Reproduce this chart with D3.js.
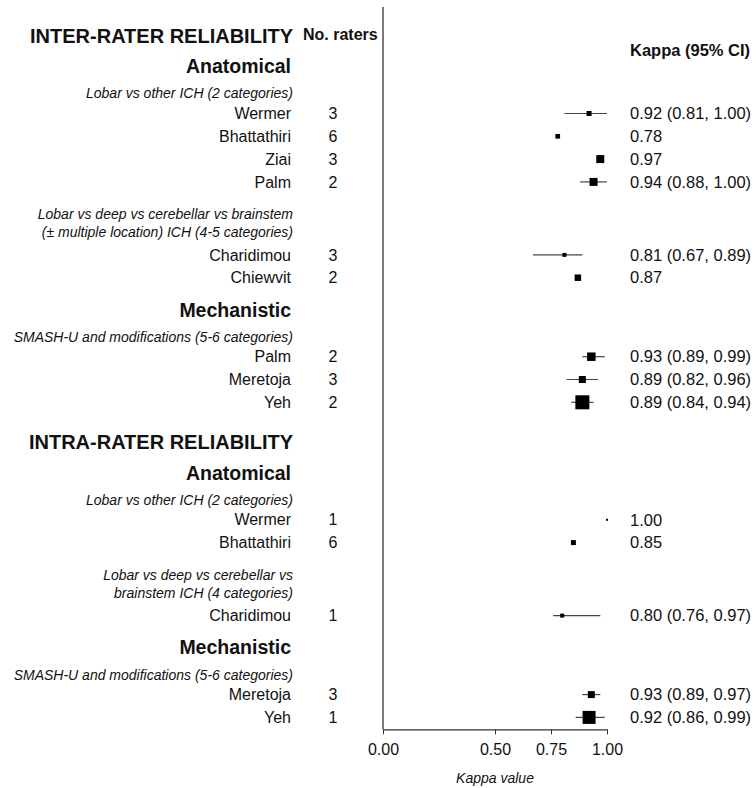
<!DOCTYPE html>
<html>
<head>
<meta charset="utf-8">
<script src="https://cdn.jsdelivr.net/npm/d3@7"></script>
<style>
  body { margin: 0; background: #fff; }
  text { font-family: "Liberation Sans", Arial, Helvetica, sans-serif; fill: #111; }
</style>
</head>
<body>
<svg id="chart" width="756" height="788"></svg>
<script>
// study rows, in drawing order
var studies = ["Wermer", "Bhattathiri", "Ziai", "Palm", "Charidimou", "Chiewvit",
  "Palm", "Meretoja", "Yeh", "Wermer", "Bhattathiri", "Charidimou", "Meretoja", "Yeh"];
var raters = [3, 6, 3, 2, 3, 2, 2, 3, 2, 1, 6, 1, 3, 1];
var kappa = [0.92, 0.78, 0.97, 0.94, 0.81, 0.87, 0.93, 0.89, 0.89, 1.00, 0.85, 0.80, 0.93, 0.92];
var ciLow = [0.81, null, null, 0.88, 0.67, null, 0.89, 0.82, 0.84, null, null, 0.76, 0.89, 0.86];
var ciHigh = [1.00, null, null, 1.00, 0.89, null, 0.99, 0.96, 0.94, null, null, 0.97, 0.97, 0.99];
// relative weight of each study (box area)
var weights = [25, 22, 64, 64, 16, 42, 72, 49, 196, 4, 25, 16, 49, 169];
var ticks = [0, 0.5, 0.75, 1];

// headings and study rows, top to bottom
var outline = [
  { kind: "title", text: "INTER-RATER RELIABILITY" },
  { kind: "section", text: "Anatomical" },
  { kind: "sub", text: ["Lobar vs other ICH (2 categories)"] },
  { kind: "study", i: 0 }, { kind: "study", i: 1 }, { kind: "study", i: 2 }, { kind: "study", i: 3 },
  { kind: "sub", text: ["Lobar vs deep vs cerebellar vs brainstem", "(\u00b1 multiple location) ICH (4-5 categories)"] },
  { kind: "study", i: 4 }, { kind: "study", i: 5 },
  { kind: "section", text: "Mechanistic" },
  { kind: "sub", text: ["SMASH-U and modifications (5-6 categories)"] },
  { kind: "study", i: 6 }, { kind: "study", i: 7 }, { kind: "study", i: 8 },
  { kind: "title", text: "INTRA-RATER RELIABILITY" },
  { kind: "section", text: "Anatomical" },
  { kind: "sub", text: ["Lobar vs other ICH (2 categories)"] },
  { kind: "study", i: 9 }, { kind: "study", i: 10 },
  { kind: "sub", text: ["Lobar vs deep vs cerebellar vs", "brainstem ICH (4 categories)"] },
  { kind: "study", i: 11 },
  { kind: "section", text: "Mechanistic" },
  { kind: "sub", text: ["SMASH-U and modifications (5-6 categories)"] },
  { kind: "study", i: 12 }, { kind: "study", i: 13 }
];

var svg = d3.select("#chart");

// gaps between row centres depending on what follows what
var gap = {
  "title>section": 30.5, "section>sub": 27, "sub>study": 20, "sub2>study": 23,
  "study>study": 22.8, "study>sub": 32, "study>section": 32, "study>title": 40
};
var y = 36, prev = null;
outline.forEach(function (r) {
  if (prev) {
    var key = (prev.kind == "sub" && prev.text.length > 1 ? "sub2" : prev.kind) + ">" + r.kind;
    y += gap[key];
  }
  r.y = y;
  if (r.kind == "sub") y += 18 * (r.text.length - 1);
  prev = r;
});
var axisY = y + 12;

var x = d3.scaleLinear().domain([0, 1]).range([383, 607]);
var box = d3.scaleSqrt().domain([0, d3.max(weights)]).range([0, 14]);

var labelRight = 291, ratersX = 333, valueX = 630;

// left labels
var rows = svg.append("g");
outline.forEach(function (r) {
  if (r.kind == "title") {
    rows.append("text").attr("x", labelRight + 2).attr("y", r.y).attr("dy", "0.35em")
      .attr("text-anchor", "end").attr("font-size", 20).attr("font-weight", "bold").text(r.text);
  } else if (r.kind == "section") {
    rows.append("text").attr("x", labelRight).attr("y", r.y).attr("dy", "0.35em")
      .attr("text-anchor", "end").attr("font-size", 19.5).attr("font-weight", "bold").text(r.text);
  } else if (r.kind == "sub") {
    r.text.forEach(function (t, k) {
      rows.append("text").attr("x", labelRight + 2).attr("y", r.y + k * 18).attr("dy", "0.35em")
        .attr("text-anchor", "end").attr("font-size", 14).attr("font-style", "italic")
        .attr("fill", "#222").text(t);
    });
  }
});

var studyRows = outline.filter(function (r) { return r.kind == "study"; });

rows.selectAll(".study").data(studyRows).join("text")
  .attr("class", "study")
  .attr("x", labelRight).attr("y", function (d) { return d.y; }).attr("dy", "0.35em")
  .attr("text-anchor", "end").attr("font-size", 16)
  .text(function (d) { return studies[d.i]; });

rows.selectAll(".raters").data(studyRows).join("text")
  .attr("class", "raters")
  .attr("x", ratersX).attr("y", function (d) { return d.y; }).attr("dy", "0.35em")
  .attr("text-anchor", "middle").attr("font-size", 16)
  .text(function (d) { return raters[d.i]; });

rows.selectAll(".value").data(studyRows).join("text")
  .attr("class", "value")
  .attr("x", valueX).attr("y", function (d) { return d.y; }).attr("dy", "0.35em")
  .attr("font-size", 16.5)
  .text(function (d) {
    var s = kappa[d.i].toFixed(2);
    if (ciLow[d.i] != null) s += " (" + ciLow[d.i].toFixed(2) + ", " + ciHigh[d.i].toFixed(2) + ")";
    return s;
  });

// column headers
svg.append("text").attr("x", 303).attr("y", 34).attr("dy", "0.35em")
  .attr("font-size", 16).attr("font-weight", "bold").text("No. raters");
svg.append("text").attr("x", valueX).attr("y", 50).attr("dy", "0.35em")
  .attr("font-size", 16.5).attr("font-weight", "bold").text("Kappa (95% CI)");

// confidence intervals
var marks = svg.append("g");
marks.selectAll(".ci").data(studyRows.filter(function (d) { return ciLow[d.i] != null; })).join("line")
  .attr("class", "ci")
  .attr("x1", function (d) { return x(ciLow[d.i]); })
  .attr("x2", function (d) { return x(ciHigh[d.i]); })
  .attr("y1", function (d) { return d.y; }).attr("y2", function (d) { return d.y; })
  .attr("stroke", "#444").attr("stroke-width", 1.2);

// weighted boxes
marks.selectAll(".box").data(studyRows).join("rect")
  .attr("class", "box")
  .attr("x", function (d) { return x(kappa[d.i]) - box(weights[d.i]) / 2; })
  .attr("y", function (d) { return d.y - box(weights[d.i]) / 2; })
  .attr("width", function (d) { return box(weights[d.i]); })
  .attr("height", function (d) { return box(weights[d.i]); })
  .attr("fill", "#000");

// vertical reference line at zero
svg.append("line")
  .attr("x1", x(0)).attr("x2", x(0)).attr("y1", 7).attr("y2", axisY)
  .attr("stroke", "#333").attr("stroke-width", 1.3);

// x axis
var axis = svg.append("g")
  .attr("transform", "translate(0," + axisY + ")")
  .call(d3.axisBottom(x).tickValues(ticks).tickFormat(d3.format(".2f"))
    .tickSize(5).tickSizeOuter(0).tickPadding(9));
axis.select(".domain").attr("stroke", "#333").attr("stroke-width", 1.2);
axis.selectAll(".tick line").attr("stroke", "#333");
axis.selectAll(".tick text").attr("font-size", 16)
  .attr("font-family", "'Liberation Sans', Arial, sans-serif").attr("fill", "#111");

svg.append("text").attr("x", x(0.5)).attr("y", 778).attr("dy", "0.35em")
  .attr("text-anchor", "middle").attr("font-size", 14).attr("font-style", "italic")
  .attr("fill", "#222").text("Kappa value");
</script>
</body>
</html>
